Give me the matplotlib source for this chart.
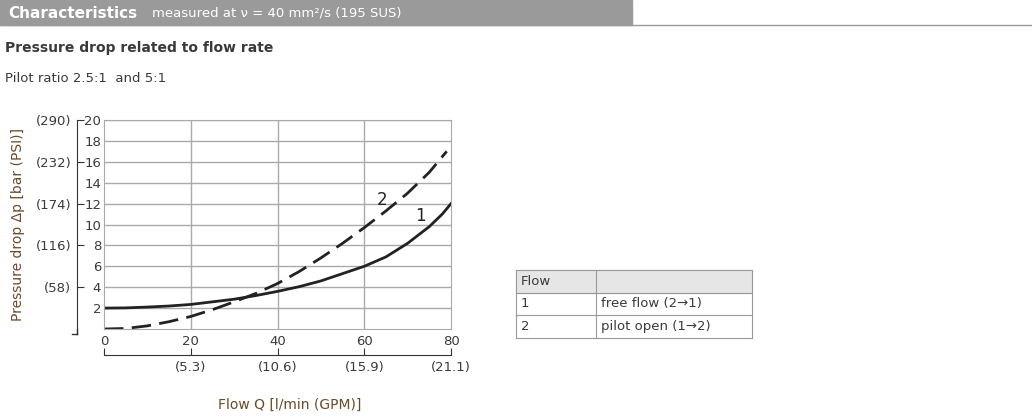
import numpy as np
import matplotlib
matplotlib.use("Agg")
import matplotlib.pyplot as plt
from matplotlib.patches import Rectangle

flow = [0, 5, 10, 15, 20, 25, 30, 35, 40, 45, 50, 55, 60, 65, 70, 75, 78, 80]
dp_free = [2.0, 2.02, 2.1, 2.2, 2.35, 2.6, 2.85, 3.2, 3.6, 4.05, 4.6, 5.3, 6.0, 6.9, 8.2, 9.8, 11.0, 12.0]
flow2 = [0, 5, 10, 15, 20, 25, 30, 35, 40, 45, 50, 55, 60, 65, 70, 75, 79]
dp_pilot = [0.0, 0.05, 0.3, 0.7, 1.2, 1.85, 2.6, 3.4, 4.35, 5.5, 6.8, 8.2, 9.7, 11.3, 13.0, 15.0, 17.0]
bar_ticks = [2, 4, 6, 8, 10, 12, 14, 16, 18, 20]
psi_ticks = [(4, "(58)"), (8, "(116)"), (12, "(174)"), (16, "(232)"), (20, "(290)")]
gpm_ticks = [(0, ""), (20, "(5.3)"), (40, "(10.6)"), (60, "(15.9)"), (80, "(21.1)")]
table_rows = [("Flow", ""), ("1", "free flow (2\u21921)"), ("2", "pilot open (1\u21922)")]

W, H = 1032, 420
fig = plt.figure(figsize=(W / 100, H / 100), dpi=100)
txt = "#3a3a3a"

def fx(px):
    return px / W

def fy(py):
    return 1 - py / H

# header bar
fig.patches.append(Rectangle((0, fy(25)), fx(632), 25 / H, transform=fig.transFigure, color="#9a9a9a"))
fig.add_artist(plt.Line2D([0, 1], [fy(25), fy(25)], transform=fig.transFigure, color="#9a9a9a", lw=1))
fig.text(fx(8), fy(13), "Characteristics", color="white", fontsize=11, weight="bold", va="center")
fig.text(fx(152), fy(13), "measured at \u03bd = 40 mm\u00b2/s (195 SUS)", color="white", fontsize=9.5, va="center")
fig.text(fx(5), fy(48), "Pressure drop related to flow rate", color=txt, fontsize=10, weight="bold", va="center")
fig.text(fx(5), fy(78), "Pilot ratio 2.5:1  and 5:1", color=txt, fontsize=9.5, va="center")

ax_w = fx(451) - fx(104)
ax = fig.add_axes([fx(104), fy(329), ax_w, (329 - 120) / H])
ax.plot(flow, dp_free, color="#222222", lw=2)
ax.plot(flow2, dp_pilot, color="#222222", lw=2, dashes=(7, 3))
ax.set_xlim(0, 80)
ax.set_ylim(0, 20)
ax.set_xticks([20, 40, 60])
ax.set_xticklabels([])
ax.set_yticks(bar_ticks)
ax.set_yticklabels([str(t) for t in bar_ticks], fontsize=9.5, color=txt)
ax.tick_params(axis="y", length=0, pad=2)
ax.tick_params(axis="x", length=0)
ax.grid(True, color="#aaaaaa", lw=1)
for s in ax.spines.values():
    s.set_color("#aaaaaa")
ax.text(64, 12.3, "2", fontsize=12, color="#222222", ha="center", va="center")
ax.text(73, 10.8, "1", fontsize=12, color="#222222", ha="center", va="center")
for x in [0, 20, 40, 60, 80]:
    ax.text(x, -0.6, str(x), fontsize=9.5, color=txt, ha="center", va="top")

# PSI axis
psi_loc = (77 - 104) / (451 - 104)
pax = ax.secondary_yaxis(psi_loc)
pax.spines["left"].set_color("#333333")
pax.spines["left"].set_bounds(-0.5, 20)
pax.set_yticks([v for v, _ in psi_ticks])
pax.set_yticklabels([l for _, l in psi_ticks], fontsize=9.5, color=txt)
pax.tick_params(axis="y", direction="in", length=5, color="#333333", pad=4)
ax.plot([psi_loc - 0.015, psi_loc], [-0.5, -0.5], color="#333333", lw=1, clip_on=False,
        transform=ax.get_yaxis_transform())
ax.plot([psi_loc, psi_loc], [-0.5, 0], color="#333333", lw=1, clip_on=False,
        transform=ax.get_yaxis_transform())
pax.set_ylabel("Pressure drop \u0394p [bar (PSI)]", color="#6b4a2a", fontsize=10, labelpad=8)

# GPM axis
gpm_loc = -(355 - 329) / (329 - 120)
gax = ax.secondary_xaxis(gpm_loc)
gax.spines["bottom"].set_color("#333333")
gax.set_xticks([v for v, _ in gpm_ticks])
gax.set_xticklabels([l for _, l in gpm_ticks], fontsize=9.5, color=txt)
gax.tick_params(axis="x", direction="in", length=5, color="#333333", pad=4)
fig.text(fx(290), fy(405), "Flow Q [l/min (GPM)]", color="#6b4a2a", fontsize=10, ha="center", va="center")

# table
x0, x1, x2 = 516, 596, 752
y0, rh = 270, 22.5
for i, (a, b) in enumerate(table_rows):
    top = y0 + i * rh
    if i == 0:
        fig.patches.append(Rectangle((fx(x0), fy(top + rh)), fx(x2 - x0), rh / H, transform=fig.transFigure, color="#e6e6e6"))
    fig.text(fx(x0 + 5), fy(top + rh / 2), a, fontsize=9.5, color=txt, va="center")
    fig.text(fx(x1 + 5), fy(top + rh / 2), b, fontsize=9.5, color=txt, va="center")
for i in range(4):
    yy = fy(y0 + i * rh)
    fig.add_artist(plt.Line2D([fx(x0), fx(x2)], [yy, yy], transform=fig.transFigure, color="#999999", lw=0.8))
for xx in [x0, x1, x2]:
    fig.add_artist(plt.Line2D([fx(xx), fx(xx)], [fy(y0), fy(y0 + 3 * rh)], transform=fig.transFigure, color="#999999", lw=0.8))

fig.savefig("out.png", dpi=100)
